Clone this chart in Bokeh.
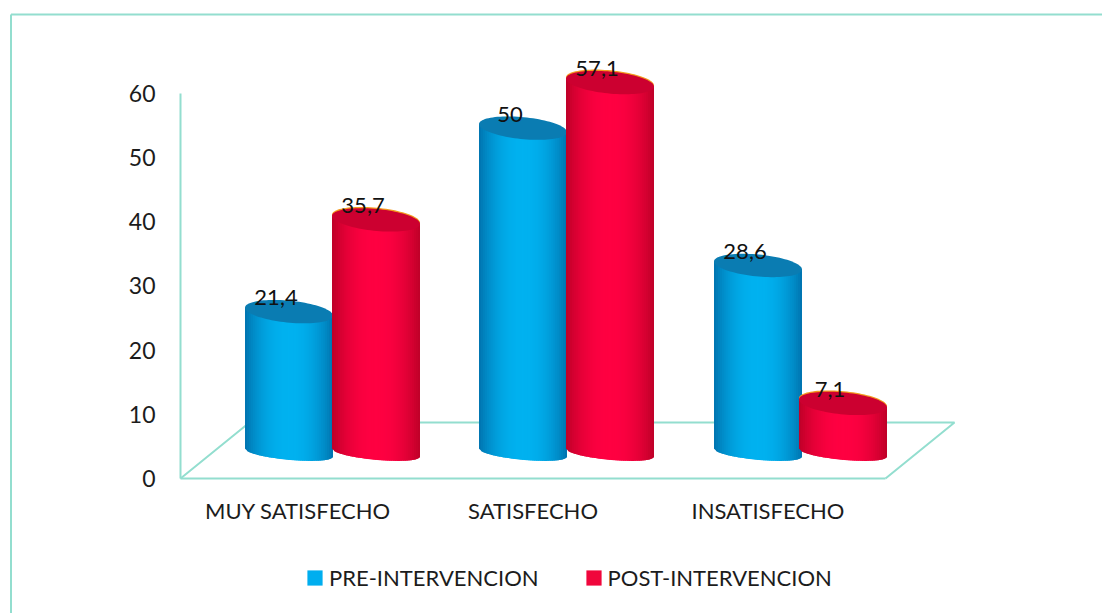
import numpy as np
from bokeh.plotting import figure
from bokeh.embed import file_html
from bokeh.resources import INLINE
from bokeh.core.properties import value
from bokeh.models import (FixedTicker, Legend, LegendItem, Range1d)

categories = ["MUY SATISFECHO", "SATISFECHO", "INSATISFECHO"]
pre_values = [21.4, 50, 28.6]
post_values = [35.7, 57.1, 7.1]
pre_labels = ["21,4", "50", "28,6"]
post_labels = ["35,7", "57,1", "7,1"]
series_names = ["PRE-INTERVENCION", "POST-INTERVENCION"]
y_ticks = [0, 10, 20, 30, 40, 50, 60]

FONT = "Lato"
TEAL = "#93DECF"
TEXT = "#1c1c1c"

FW, FH = 1102, 613
X0, Y0 = 180, 478    # pixel position of the chart origin
PX_X = 235.0         # px per category
PX_Y = 6.417         # px per value unit

p = figure(width=FW, height=FH, output_backend="svg", toolbar_location=None,
           min_border=0,
           x_range=Range1d(-X0 / PX_X, (FW - X0) / PX_X),
           y_range=Range1d(-(FH - Y0) / PX_Y, Y0 / PX_Y),
           background_fill_color="white", border_fill_color="white")
p.outline_line_color = None
p.grid.visible = False

# axes, drawn at the origin inside the frame
yax = p.yaxis[0]
yax.fixed_location = 0
yax.ticker = FixedTicker(ticks=y_ticks)
yax.bounds = (0, 60)
yax.axis_line_color = TEAL
yax.axis_line_width = 2
yax.major_tick_line_color = None
yax.minor_tick_line_color = None
yax.major_tick_in = 0
yax.major_tick_out = 0
yax.major_label_standoff = 25
yax.major_label_text_font = FONT
yax.major_label_text_font_size = "23px"
yax.major_label_text_color = TEXT

xax = p.xaxis[0]
xax.fixed_location = 0
xax.ticker = FixedTicker(ticks=[0.5, 1.5, 2.5])
xax.major_label_overrides = {0.5: categories[0], 1.5: categories[1], 2.5: categories[2]}
xax.bounds = (0, 3)
xax.axis_line_color = TEAL
xax.axis_line_width = 2
xax.major_tick_line_color = None
xax.minor_tick_line_color = None
xax.major_tick_in = 0
xax.major_tick_out = 0
xax.major_label_standoff = 18
xax.major_label_text_font = FONT
xax.major_label_text_font_size = "22px"
xax.major_label_text_color = TEXT

# outer rule of the page: top and left only
rule_x = (10.5 - X0) / PX_X
rule_y = (Y0 - 14) / PX_Y
p.line([rule_x, rule_x], [-(FH - Y0) / PX_Y, rule_y], line_color=TEAL, line_width=2)
p.line([rule_x, (FW - X0) / PX_X], [rule_y, rule_y], line_color=TEAL, line_width=2)

# floor of the 3D scene
dep_x = 69 / PX_X
dep_y = 56 / PX_Y
p.line([0, dep_x, 3 + dep_x, 3], [0, dep_y, dep_y, 0], line_color=TEAL, line_width=2)

# cylinders
half = 44 / PX_X
plane = 4.6        # value offset of the cylinders' plane from the front wall
b_top = 11 / PX_Y
b_bot = 7 / PX_Y
base = 4.0
tilt = -4 / PX_Y   # rise of right side over half-width

pre_x = [i + 0.5 + d / PX_X for i, d in enumerate((-9, -10, -10))]
post_x = [i + 0.5 + d / PX_X for i, d in enumerate((78, 77, 75))]
pal = {0: ((0, 116, 175), (0, 178, 240), (10, 124, 178)),
       1: ((190, 0, 40), (255, 0, 66), (204, 0, 48))}


def shade(dark, light, t):
    k = np.clip(1 - abs(2 * t - 1) ** 2.2, 0, 1)
    return "#%02x%02x%02x" % tuple(int(d + (l - d) * k) for d, l in zip(dark, light))


def draw_cylinder(cx, v, s):
    dark, light, top = pal[s]
    yc = plane + v
    n = 45
    edges = np.linspace(-1, 1, n + 1)
    xs, ys, cols = [], [], []
    for a, c in zip(edges[:-1], edges[1:]):
        u = np.array([a, min(c + 0.04, 1.0)])
        top_y = yc + tilt * u
        bot_y = base + tilt * u - b_bot * np.sqrt(np.clip(1 - u ** 2, 0, 1))
        xs.append(list(cx + half * np.array([u[0], u[1], u[1], u[0]])))
        ys.append([top_y[0], top_y[1], bot_y[1], bot_y[0]])
        cols.append(shade(dark, light, (a + c + 2) / 4))
    p.patches(xs, ys, fill_color=cols, line_color=None)
    th = np.linspace(0, 2 * np.pi, 90)
    ex = cx + half * np.cos(th)
    if s == 1:  # thin warm rim along the back of the red tops
        p.patch(ex, yc + 0.2 + tilt * np.cos(th) + b_top * np.sin(th),
                fill_color="#F39A1E", line_color=None)
    p.patch(ex, yc + tilt * np.cos(th) + b_top * np.sin(th),
            fill_color="#%02x%02x%02x" % top, line_color=None)


for i, (a, b) in enumerate(zip(pre_values, post_values)):
    draw_cylinder(pre_x[i], a, 0)
    draw_cylinder(post_x[i], b, 1)

# data labels
lx, ly, lt = [], [], []
for i in range(3):
    for cxs, vals, labs in ((pre_x, pre_values, pre_labels), (post_x, post_values, post_labels)):
        lx.append(cxs[i] - 13 / PX_X)
        ly.append(vals[i] + plane + b_top + 3 / PX_Y)
        lt.append(labs[i])
p.text(lx, ly, text=lt, text_font=value(FONT), text_font_size="22px",
       text_align="center", text_baseline="middle", text_color="#111111")

# legend
nan = float("nan")
r1 = p.quad(left=[nan], right=[nan], top=[nan], bottom=[nan], fill_color="#00AEEF", line_color=None)
r2 = p.quad(left=[nan], right=[nan], top=[nan], bottom=[nan], fill_color="#F0063C", line_color=None)
leg = Legend(items=[LegendItem(label=series_names[0], renderers=[r1]),
                    LegendItem(label=series_names[1], renderers=[r2])],
             orientation="horizontal", location=(305, 22),
             border_line_color=None, background_fill_alpha=0,
             glyph_width=19, glyph_height=19, label_text_font=FONT,
             label_text_font_size="22px", label_text_color=TEXT,
             spacing=45, margin=0, padding=0, label_standoff=5)
p.add_layout(leg)

open("out.html", "w").write(file_html(p, INLINE))
